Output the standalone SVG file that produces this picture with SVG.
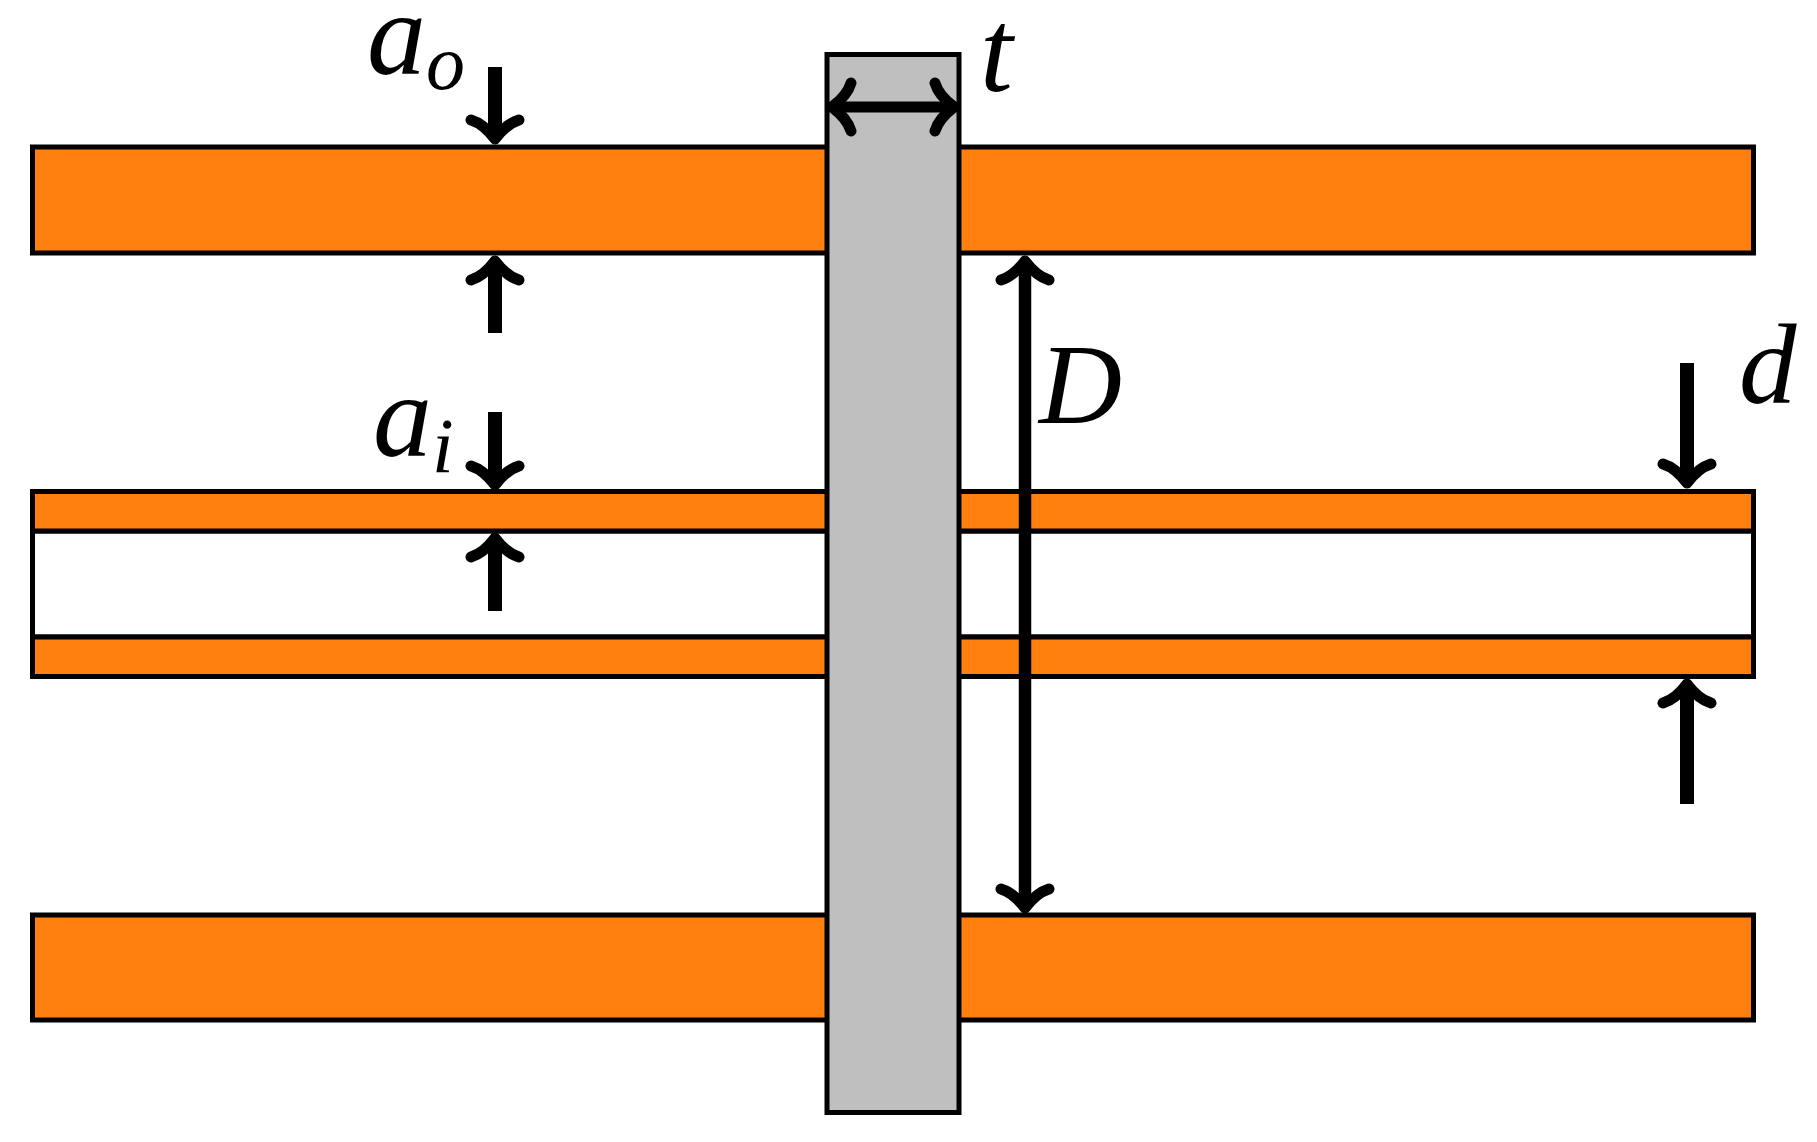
<svg xmlns="http://www.w3.org/2000/svg" width="1817" height="1142" viewBox="0 0 1817 1142">
  <style>
    .band { fill: #ff800f; stroke: #000; stroke-width: 5; }
    .gap { fill: #fff; stroke: #000; stroke-width: 5; }
    .post { fill: #bfbfbf; stroke: #000; stroke-width: 5; }
    .dim { fill: none; stroke: #000; stroke-linecap: butt; }
    .w13 { stroke-width: 14; }
    .w11 { stroke-width: 12.5; }
    .w9 { stroke-width: 11; }
    text { font-family: "Liberation Serif", "Times New Roman", serif; font-style: italic; fill: #000; }
    .main { font-size: 118px; }
    .sub { font-size: 78px; }
    .upper { font-size: 115px; }
  </style>
  <defs>
    <marker id="head" markerUnits="userSpaceOnUse" markerWidth="70" markerHeight="70" refX="-12" refY="0" orient="auto-start-reverse" overflow="visible">
      <g transform="rotate(-90)">
        <path fill="none" stroke="#000" stroke-width="11" stroke-linecap="round" stroke-linejoin="round" d="M-24,-25 C-14,-22 -6,-14 0,-6 C6,-14 14,-22 24,-25"/>
      </g>
    </marker>
  </defs>
  <rect width="1817" height="1142" fill="#fff"/>
  <g id="outer-top"><rect class="band" x="32.5" y="147" width="1721" height="106"/></g>
  <g id="inner-gap"><rect class="gap" x="32.5" y="531" width="1721" height="106"/></g>
  <g id="inner-top"><rect class="band" x="32.5" y="491.5" width="1721" height="39.5"/></g>
  <g id="inner-bottom"><rect class="band" x="32.5" y="637" width="1721" height="39.5"/></g>
  <g id="outer-bottom"><rect class="band" x="32.5" y="915" width="1721" height="105"/></g>
  <g id="post"><rect class="post" x="827" y="54.5" width="132" height="1058"/></g>
  <g id="connectors">
    <line class="dim w13" x1="495" y1="67" x2="495" y2="133" marker-end="url(#head)"/>
    <line class="dim w13" x1="495" y1="333" x2="495" y2="267" marker-end="url(#head)"/>
    <line class="dim w13" x1="495" y1="412" x2="495" y2="479" marker-end="url(#head)"/>
    <line class="dim w13" x1="495" y1="611" x2="495" y2="544" marker-end="url(#head)"/>
    <line class="dim w13" x1="1687" y1="363" x2="1687" y2="477" marker-end="url(#head)"/>
    <line class="dim w13" x1="1687" y1="804" x2="1687" y2="690" marker-end="url(#head)"/>
    <line class="dim w11" x1="1025" y1="267" x2="1025" y2="902" marker-start="url(#head)" marker-end="url(#head)"/>
    <line class="dim w9" x1="838" y1="107" x2="948" y2="107" marker-start="url(#head)" marker-end="url(#head)"/>
  </g>
  <g id="labels">
    <text id="label-ao"><tspan class="main" x="367" y="74">a</tspan><tspan class="sub" x="426" y="89">o</tspan></text>
    <text id="label-ai"><tspan class="main" x="373" y="456">a</tspan><tspan class="sub" x="432" y="472">i</tspan></text>
    <text id="label-t" class="main" x="980" y="91">t</text>
    <text id="label-D" class="upper" x="1039" y="423">D</text>
    <text id="label-d" class="upper" x="1739" y="403">d</text>
  </g>
</svg>
